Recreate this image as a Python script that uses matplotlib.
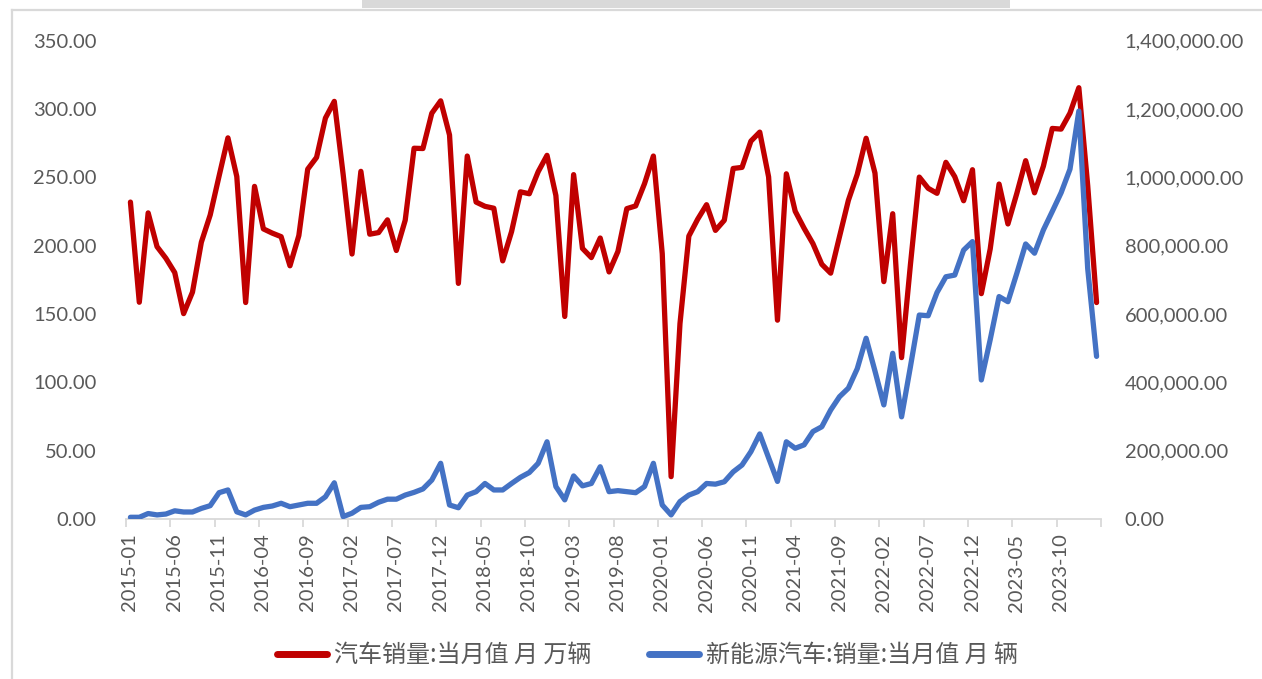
import matplotlib
matplotlib.use("Agg")
import matplotlib.pyplot as plt
from matplotlib.lines import Line2D
from matplotlib.patches import Rectangle
from matplotlib.transforms import ScaledTranslation
import numpy as np
import pandas as pd

# Monthly periods 2015-01 .. 2024-02
months = pd.period_range("2015-01", "2024-02", freq="M").strftime("%Y-%m").tolist()

# Vehicle sales, monthly value (10k units)
auto_sales = [
    231.9, 158.6, 224.0, 199.3, 190.8, 180.3, 150.3, 166.0, 202.5, 222.5, 250.9, 278.9,   # 2015
    250.6, 158.4, 243.4, 212.3, 209.2, 206.6, 185.3, 207.4, 256.0, 264.6, 293.4, 305.6,   # 2016
    252.1, 193.9, 254.4, 208.4, 209.6, 218.9, 196.5, 218.6, 271.3, 271.1, 296.9, 306.0,   # 2017
    281.0, 172.4, 265.6, 231.9, 228.8, 227.4, 188.9, 210.3, 239.4, 238.0, 254.1, 266.1,   # 2018
    236.7, 148.2, 252.0, 198.0, 191.3, 205.6, 180.8, 195.8, 227.1, 229.1, 245.4, 265.6,   # 2019
    194.1, 31.0, 143.0, 207.0, 219.4, 230.0, 211.2, 218.6, 256.5, 257.3, 276.5, 283.1,    # 2020
    250.3, 145.5, 252.6, 225.2, 212.8, 201.5, 186.4, 179.9, 206.7, 233.2, 252.2, 278.6,   # 2021
    253.1, 173.7, 223.4, 118.1, 186.2, 250.2, 242.0, 238.3, 261.0, 250.5, 232.9, 255.6,   # 2022
    164.9, 197.6, 245.1, 215.9, 238.2, 262.2, 238.7, 258.2, 285.8, 285.3, 297.0, 315.6,   # 2023
    243.9, 158.4,                                                                         # 2024
]

# New-energy vehicle sales, monthly value (units)
nev_sales = [
    5000, 5000, 16000, 12000, 14500, 24000, 20500, 20500, 31000, 39000, 77000, 85000,              # 2015
    21000, 12000, 26000, 34000, 38000, 46000, 36000, 41000, 46000, 46000, 65000, 106000,           # 2016
    7000, 17000, 34000, 36000, 49000, 58000, 58000, 70000, 78000, 88000, 114000, 163000,           # 2017
    41000, 33000, 70000, 80000, 104000, 85000, 85000, 104000, 122000, 136000, 163000, 226000,      # 2018
    95000, 56000, 126000, 97000, 104000, 153000, 80000, 83000, 80000, 77000, 95000, 163000,        # 2019
    41000, 12000, 51000, 70000, 80000, 104000, 102000, 109000, 138000, 158000, 197000, 249000,     # 2020
    179000, 110000, 226000, 207000, 217000, 256000, 270000, 319000, 358000, 383000, 440000, 529000, # 2021
    433000, 334000, 485000, 299000, 446000, 597000, 595000, 663000, 709000, 714000, 787000, 812000, # 2022
    407000, 525000, 651000, 636000, 719000, 805000, 778000, 846000, 900000, 955000, 1024000, 1194000, # 2023
    733000, 476000,                                                                                # 2024
]

left_ticks = np.arange(0, 351, 50)
right_ticks = np.arange(0, 1400001, 200000)

RED = "#C00000"
BLUE = "#4472C4"
TEXT = "#595959"
GRID = "#D9D9D9"

plt.rcParams["font.family"] = ["Lato", "DejaVu Sans"]

W, H = 1262, 679
fig = plt.figure(figsize=(W / 100, H / 100), dpi=100)
fig.patch.set_facecolor("white")

# surrounding frame and header strip
fig.add_artist(Line2D([12 / W, 12 / W], [0, 1 - 10 / H], color=GRID, lw=1.6, transform=fig.transFigure))
fig.add_artist(Line2D([12 / W, 1], [1 - 10 / H, 1 - 10 / H], color=GRID, lw=1.6, transform=fig.transFigure))
fig.add_artist(Rectangle((362 / W, 1 - 8 / H), (1010 - 362) / W, 8 / H, color=GRID,
                         transform=fig.transFigure, lw=0))

x0, x1 = 126, 1101
y_top, y_bot = 40.7, 519
ax = fig.add_axes([x0 / W, 1 - y_bot / H, (x1 - x0) / W, (y_bot - y_top) / H])
ax2 = ax.twinx()

n = len(months)
xpos = np.arange(n) + 0.5

l1, = ax.plot(xpos, auto_sales, color=RED, lw=3.8, solid_joinstyle="round", solid_capstyle="round",
              label="汽车销量:当月值 月 万辆")
l2, = ax2.plot(xpos, nev_sales, color=BLUE, lw=3.8, solid_joinstyle="round", solid_capstyle="round",
               label="新能源汽车:销量:当月值 月 辆")

ax.set_xlim(0, n)
ax.set_ylim(0, 350)
ax2.set_ylim(0, 1400000)

tick_idx = list(range(0, n, 5))
ax.set_xticks(tick_idx + [n])
ax.set_xticklabels([months[i] for i in tick_idx] + [""], rotation=90, fontsize=14.5, color=TEXT)
ax.tick_params(axis="x", length=5.5, width=1.3, color=GRID, pad=5)
shift = ScaledTranslation(4 / 100, 0, fig.dpi_scale_trans)
for lab in ax.get_xticklabels():
    lab.set_transform(lab.get_transform() + shift)

ax.set_yticks(left_ticks)
ax.set_yticklabels([f"{v:.2f}" for v in left_ticks], fontsize=14.5, color=TEXT)
ax.tick_params(axis="y", length=0, pad=21)

ax2.set_yticks(right_ticks)
ax2.set_yticklabels([f"{v:,.2f}" for v in right_ticks], fontsize=14.5, color=TEXT)
ax2.tick_params(axis="y", length=0, pad=17)

for a in (ax, ax2):
    for s in ("top", "left", "right", "bottom"):
        a.spines[s].set_visible(False)
ax.spines["bottom"].set_visible(True)
ax.spines["bottom"].set_color(GRID)
ax.spines["bottom"].set_linewidth(1.3)

leg = fig.legend(handles=[l1, l2], loc="center", bbox_to_anchor=(0.513, 1 - 655 / H), ncol=2,
                 frameon=False, handlelength=2.08, handletextpad=0.29, columnspacing=2.4,
                 prop={"family": ["Noto Sans CJK SC", "DejaVu Sans"], "size": 17.3})
for t in leg.get_texts():
    t.set_color(TEXT)
for h in leg.legend_handles:
    h.set_linewidth(5)
    h.set_solid_capstyle("round")

fig.savefig("out.png", dpi=100, facecolor="white")
